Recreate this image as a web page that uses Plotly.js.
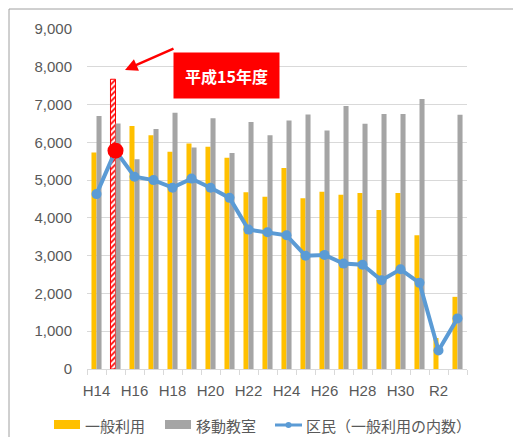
<!DOCTYPE html>
<html>
<head>
<meta charset="utf-8">
<script src="https://cdn.plot.ly/plotly-3.0.1.min.js"></script>
<style>html,body{margin:0;padding:0;background:#fff;}#chart{width:513px;height:437px;}</style>
</head>
<body>
<div id="chart"></div>
<script>
const categories = ["H14","H15","H16","H17","H18","H19","H20","H21","H22","H23","H24","H25","H26","H27","H28","H29","H30","R1","R2","R3"];
const tickLabels = ["H14","","H16","","H18","","H20","","H22","","H24","","H26","","H28","","H30","","R2",""];
const seriesNames = ["一般利用","移動教室","区民（一般利用の内数）"];
const general = [5730,7670,6430,6190,5750,5970,5880,5590,4680,4560,5320,4520,4690,4610,4660,4210,4660,3540,820,1910];
const mobile = [6700,6500,5550,6350,6780,5860,6640,5720,6540,6190,6580,6740,6310,6960,6490,6750,6750,7150,0,6730];
const residents = [4630,5780,5090,5000,4800,5040,4800,4530,3690,3620,3540,3000,3020,2790,2760,2350,2640,2280,490,1340];
const highlightIndex = 1;
const highlightLabel = "平成15年度";

const YEL = "#FFC000", GRY = "#A5A5A5", BLU = "#5B9BD5", RED = "#FF0000";
const fontTxt = "Liberation Sans, Arial, Noto Sans CJK JP, sans-serif";
const fontJP = "Noto Sans CJK JP, sans-serif";

const genColors = general.map((v,i)=> i===highlightIndex ? RED : YEL);
const genShapes = general.map((v,i)=> i===highlightIndex ? "/" : "");
const genLineC = general.map((v,i)=> i===highlightIndex ? RED : "rgba(0,0,0,0)");
const genLineW = general.map((v,i)=> i===highlightIndex ? 1 : 0);
const resColors = residents.map((v,i)=> i===highlightIndex ? RED : BLU);
const resSizes = residents.map((v,i)=> i===highlightIndex ? 16 : 10);

const traces = [
  {type:"bar", x:categories, y:general, name:seriesNames[0], showlegend:false,
   marker:{color:genColors, line:{color:genLineC, width:genLineW},
     pattern:{shape:genShapes, fgcolor:RED, bgcolor:"#ffffff", size:4, solidity:0.45, fillmode:"replace"}},
   hoverinfo:"skip"},
  {type:"bar", x:categories, y:mobile, name:seriesNames[1], showlegend:false,
   marker:{color:GRY}, hoverinfo:"skip"},
  {type:"scatter", mode:"lines+markers", x:categories, y:residents, name:seriesNames[2], showlegend:false,
   line:{color:BLU, width:4}, marker:{color:resColors, size:resSizes, opacity:1, line:{width:0}}, hoverinfo:"skip"}
];

const L=87, R=467, T=29, B=369;
const px = x => (x-L)/(R-L);
const py = y => (B-y)/(B-T);

const shapes = [
  {type:"rect", xref:"paper", yref:"paper", x0:px(9), x1:px(530), y0:py(9), y1:py(460), line:{color:"#a0a0a0", width:1}, fillcolor:"rgba(0,0,0,0)", layer:"below"},
  {type:"rect", xref:"paper", yref:"paper", x0:px(54), x1:px(80), y0:py(420), y1:py(429), line:{width:0}, fillcolor:YEL},
  {type:"rect", xref:"paper", yref:"paper", x0:px(165), x1:px(191), y0:py(420), y1:py(429), line:{width:0}, fillcolor:GRY},
  {type:"line", xref:"paper", yref:"paper", x0:px(275), x1:px(302), y0:py(425), y1:py(425), line:{color:BLU, width:3}},
  {type:"circle", xref:"paper", yref:"paper", x0:px(285.5), x1:px(291.5), y0:py(422), y1:py(428), line:{width:0}, fillcolor:BLU}
];

const annotations = [
  {xref:"paper", yref:"paper", x:px(125), y:py(70), ax:50, ay:-22, text:"", showarrow:true,
   arrowcolor:RED, arrowwidth:2.5, arrowhead:2, arrowsize:1},
  {xref:"paper", yref:"paper", x:px(226), y:py(52), text:"<b>"+highlightLabel+"</b>", showarrow:false,
   bgcolor:RED, width:105, height:45, borderpad:0, font:{family:fontJP, size:16, color:"#ffffff"}},
  {xref:"paper", yref:"paper", x:px(83), y:py(425), xanchor:"left", yanchor:"middle", text:seriesNames[0], showarrow:false, font:{family:fontJP, size:15, color:"#595959"}},
  {xref:"paper", yref:"paper", x:px(194), y:py(425), xanchor:"left", yanchor:"middle", text:seriesNames[1], showarrow:false, font:{family:fontJP, size:15, color:"#595959"}},
  {xref:"paper", yref:"paper", x:px(304), y:py(425), xanchor:"left", yanchor:"middle", text:seriesNames[2], showarrow:false, font:{family:fontJP, size:15, color:"#595959"}}
];

const layout = {
  width:513, height:437,
  margin:{l:L, r:513-R, t:T, b:437-B, pad:0, autoexpand:false},
  paper_bgcolor:"#ffffff", plot_bgcolor:"#ffffff",
  barmode:"group", bargap:0.47, bargroupgap:0,
  showlegend:false,
  font:{family:fontTxt, size:15, color:"#595959"},
  xaxis:{type:"category", range:[-0.5, categories.length-0.5], tickmode:"array", tickvals:categories, ticktext:tickLabels,
    tickson:"boundaries", ticks:"outside", ticklen:5, tickcolor:"#d9d9d9", tickangle:0, automargin:false,
    showline:true, linecolor:"#d9d9d9", linewidth:1, showgrid:false, zeroline:false,
    ticklabelstandoff:8, tickfont:{family:fontTxt, size:15, color:"#595959"}},
  yaxis:{range:[0,9000], dtick:1000, tickformat:",d", showgrid:true, gridcolor:"#d9d9d9", gridwidth:1,
    zeroline:false, showline:false, ticks:"", ticklabelstandoff:14, automargin:false,
    tickfont:{family:fontTxt, size:15, color:"#595959"}},
  shapes:shapes, annotations:annotations
};

Plotly.newPlot("chart", traces, layout, {displayModeBar:false, staticPlot:true});
</script>
</body>
</html>
